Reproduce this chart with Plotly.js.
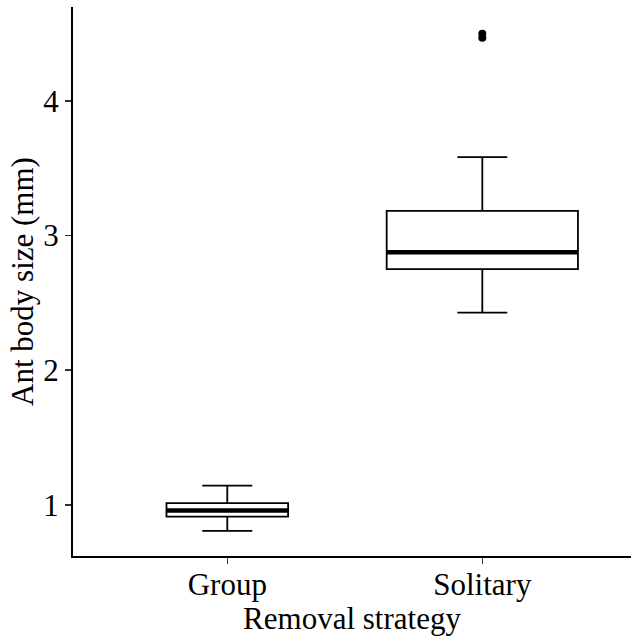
<!DOCTYPE html>
<html>
<head>
<meta charset="utf-8">
<script src="https://cdn.plot.ly/plotly-3.0.1.min.js"></script>
<style>html,body{margin:0;padding:0;background:#fff;overflow:hidden;}</style>
</head>
<body>
<div id="chart" style="width:631px;height:636px;"></div>
<script>
// Data
const categories = ["Group", "Solitary"];
const lowerWhisker = [0.807, 2.428];
const q1 = [0.913, 2.750];
const median = [0.958, 2.876];
const q3 = [1.013, 3.183];
const upperWhisker = [1.143, 3.582];
const boxWidths = [0.477, 0.75];           // varwidth boxes
const outlierCategory = ["Solitary", "Solitary"];
const outlierValues = [4.468, 4.497];

const FONT = "Liberation Serif, Times New Roman, serif";
const xpos = categories.map((c, i) => i);

const traces = [];
categories.forEach((c, i) => {
  traces.push({
    type: "box",
    x: [xpos[i]],
    q1: [q1[i]], median: [median[i]], q3: [q3[i]],
    lowerfence: [lowerWhisker[i]], upperfence: [upperWhisker[i]],
    width: boxWidths[i],
    whiskerwidth: 50 / (boxWidths[i] * 255),
    fillcolor: "#ffffff",
    line: {color: "#000000", width: 1.8},
    boxpoints: false,
    hoverinfo: "skip",
    showlegend: false
  });
  traces.push({
    type: "scatter", mode: "lines",
    x: [xpos[i] - boxWidths[i] / 2, xpos[i] + boxWidths[i] / 2],
    y: [median[i], median[i]],
    line: {color: "#000000", width: 4.5},
    hoverinfo: "skip", showlegend: false
  });
});
traces.push({
  type: "scatter", mode: "markers",
  x: outlierCategory.map(c => categories.indexOf(c)),
  y: outlierValues,
  marker: {color: "#000000", size: 8},
  hoverinfo: "skip", showlegend: false
});

const layout = {
  width: 631, height: 636,
  margin: {l: 73, r: 0, t: 7, b: 80},
  paper_bgcolor: "#ffffff", plot_bgcolor: "#ffffff",
  font: {family: FONT, color: "#000000", size: 31},
  showlegend: false,
  xaxis: {
    range: [-0.605, 1.583],
    tickvals: xpos, ticktext: categories,
    showgrid: false, zeroline: false,
    showline: true, linecolor: "#000000", linewidth: 2,
    ticks: "outside", ticklen: 6, tickwidth: 1.5, tickcolor: "#333333",
    ticklabelstandoff: -6,
    tickfont: {family: FONT, size: 31, color: "#000000"},
    title: {text: "Removal strategy", font: {family: FONT, size: 31, color: "#000000"}, standoff: 0},
    automargin: false
  },
  yaxis: {
    range: [0.621, 4.696],
    tickvals: [1, 2, 3, 4],
    showgrid: false, zeroline: false,
    showline: true, linecolor: "#000000", linewidth: 2,
    ticks: "outside", ticklen: 6, tickwidth: 1.5, tickcolor: "#333333",
    tickfont: {family: FONT, size: 31, color: "#000000"},
    title: {text: "Ant body size (mm)", font: {family: FONT, size: 31, color: "#000000"}, standoff: 0},
    automargin: false
  }
};

Plotly.newPlot("chart", traces, layout, {displayModeBar: false, staticPlot: true});
</script>
</body>
</html>
